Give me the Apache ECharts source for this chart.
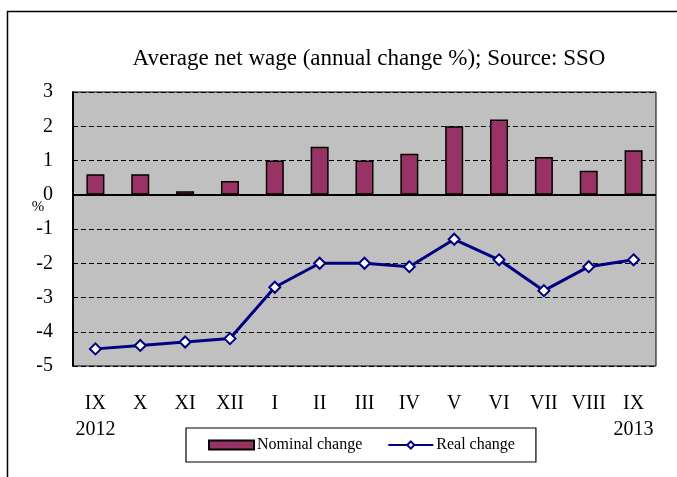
<!DOCTYPE html>
<html><head><meta charset="utf-8">
<script src="https://cdn.jsdelivr.net/npm/echarts@6/dist/echarts.min.js"></script>
<style>html,body{margin:0;padding:0;background:#fff}#c{width:677px;height:477px}</style>
</head><body><div id="c"></div>
<script>
const months = ['IX','X','XI','XII','I','II','III','IV','V','VI','VII','VIII','IX'];
const years = ['2012','','','','','','','','','','','','2013'];
const nominal = [0.6,0.6,0.1,0.4,1.0,1.4,1.0,1.2,2.0,2.2,1.1,0.7,1.3];
const real = [-4.5,-4.4,-4.3,-4.2,-2.7,-2.0,-2.0,-2.1,-1.3,-1.9,-2.8,-2.1,-1.9];
const titleText = 'Average net wage (annual change %); Source: SSO';
const FF = 'Liberation Serif';

const chart = echarts.init(document.getElementById('c'), null, {renderer:'canvas'});
chart.setOption({
  animation:false,
  backgroundColor:'#fff',
  graphic:[
    {type:'rect', shape:{x:7.5,y:11.5,width:700,height:500}, style:{fill:'none',stroke:'#000',lineWidth:1.5}, z:-1},
    {type:'text', x:369, y:59, style:{text:titleText, fontFamily:FF, fontSize:23, fill:'#000', textAlign:'center', textVerticalAlign:'middle'}},
    {type:'text', x:38, y:207, style:{text:'%', fontFamily:FF, fontSize:15, fill:'#000', textAlign:'center', textVerticalAlign:'middle'}}
  ],
  grid:{left:73, right:21, top:92, bottom:111, show:true, backgroundColor:'#c0c0c0', borderColor:'#000', borderWidth:1},
  legend:{
    left:186, top:428,
    padding:[9,21,9,22],
    borderColor:'#000', borderWidth:1.2, backgroundColor:'#fff',
    itemWidth:45, itemHeight:9, itemGap:25,
    textStyle:{fontFamily:FF, fontSize:16, color:'#000', padding:[0,0,0,-2]},
    data:[{name:'Nominal change', icon:'rect'},{name:'Real change'}]
  },
  xAxis:{
    type:'category', data:months,
    axisLine:{show:false}, axisTick:{show:false},
    axisLabel:{
      interval:0, margin:25,
      fontFamily:FF, fontSize:20, color:'#000', lineHeight:26,
      formatter:(v,i)=> years[i] ? v+'\n'+years[i] : v+'\n '
    }
  },
  yAxis:{
    type:'value', min:-5, max:3, interval:1,
    axisLine:{show:true, lineStyle:{color:'#000', width:2}},
    axisTick:{show:false},
    axisLabel:{fontFamily:FF, fontSize:20, color:'#000', margin:20},
    splitLine:{show:true, lineStyle:{color:'#000', type:[5,3], width:1.2}}
  },
  series:[
    {
      name:'Nominal change', type:'bar', data:nominal, barWidth:18,
      itemStyle:{color:'#993366', borderColor:'#000', borderWidth:1.5},
      markLine:{silent:true, symbol:'none', label:{show:false},
        lineStyle:{color:'#000', type:'solid', width:2},
        data:[{yAxis:0}]}
    },
    {
      name:'Real change', type:'line', data:real,
      lineStyle:{color:'#000080', width:3},
      itemStyle:{color:'#fff', borderColor:'#000080', borderWidth:2},
      symbol:'diamond', symbolSize:11, showSymbol:true
    }
  ]
});
</script></body></html>
